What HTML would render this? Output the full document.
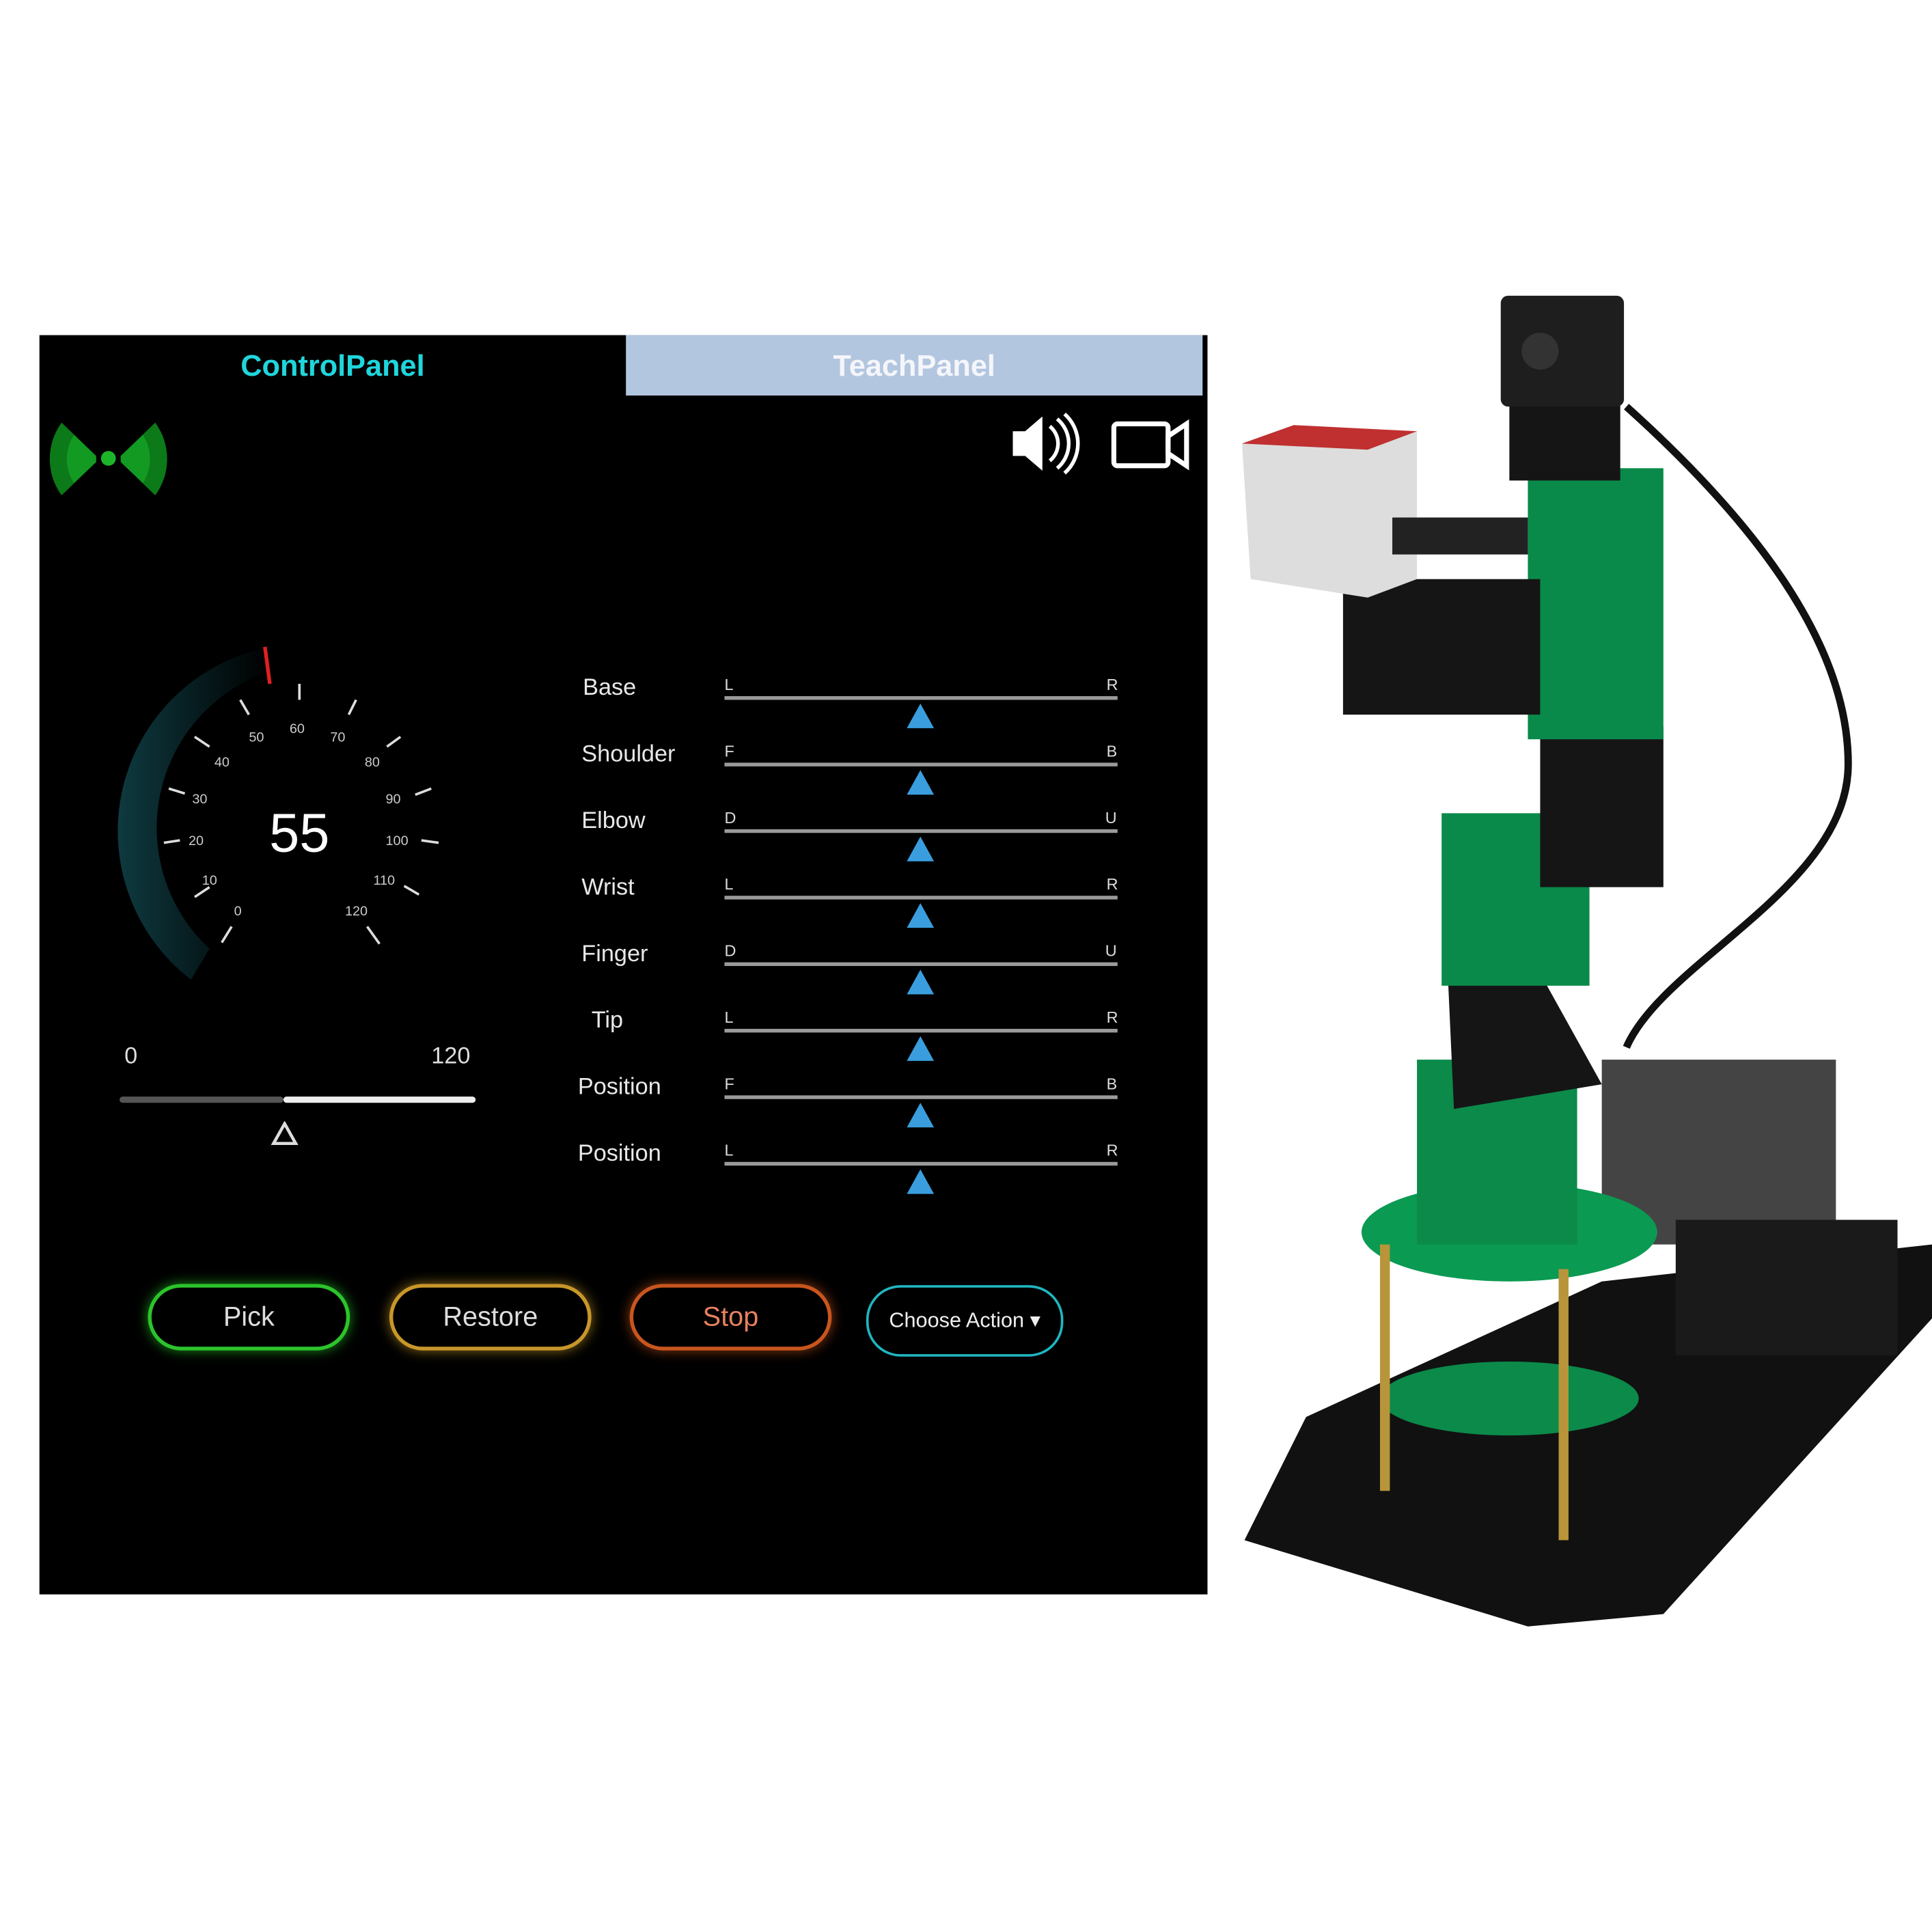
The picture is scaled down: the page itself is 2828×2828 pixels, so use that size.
<!DOCTYPE html>
<html><head><meta charset="utf-8"><style>
html,body{margin:0;padding:0;background:#fff;width:2828px;height:2828px;overflow:hidden}
#w{position:absolute;left:0;top:0;width:1568px;height:1568px;transform:scale(1.80357);transform-origin:0 0;font-family:"Liberation Sans",sans-serif}
.a{position:absolute}
.lab{position:absolute;color:#e8e8e8;font-size:19px}
.tk{position:absolute;height:3px;background:#9a9a9a;left:588px;width:319px}
.le{position:absolute;color:#ddd;font-size:13px}
.tri{position:absolute;width:0;height:0;border-left:11px solid transparent;border-right:11px solid transparent;border-bottom:20px solid #3a9ede;left:736px}
.btn{position:absolute;top:1042px;height:54px;border-radius:28px;box-sizing:border-box;color:#ddd;font-size:22px;display:flex;align-items:center;justify-content:center}
</style></head><body><div id="w">
<div class="a" style="left:32px;top:272px;width:948px;height:1022px;background:#000"></div>
<div class="a" style="left:508px;top:272px;width:468px;height:49px;background:#b3c6e0"></div>
<div class="a" style="left:508px;top:284px;width:468px;text-align:center;color:#f4f6fa;font-weight:bold;font-size:24px">TeachPanel</div>
<div class="a" style="left:100px;top:284px;width:340px;text-align:center;color:#1fd6dc;font-weight:bold;font-size:24px">ControlPanel</div>
<svg class="a" style="left:38px;top:335px" width="100" height="75" viewBox="0 0 100 75">
<path d="M12 8 A50 50 0 0 0 12 67 L40 40 L40 35 Z" fill="#0c7a18"/>
<path d="M22 18 A36 36 0 0 0 22 57 L40 40 L40 35Z" fill="#139a22"/>
<path d="M88 8 A50 50 0 0 1 88 67 L60 40 L60 35 Z" fill="#0c7a18"/>
<path d="M78 18 A36 36 0 0 1 78 57 L60 40 L60 35Z" fill="#139a22"/>
<circle cx="50" cy="37" r="6" fill="#1cb52a"/></svg>
<svg class="a" style="left:818px;top:332px" width="150" height="56" viewBox="0 0 150 56">
<path d="M4 18 H14 L28 6 V50 L14 38 H4Z" fill="#fff"/>
<path d="M34 14 A18 18 0 0 1 34 42 M40 8 A26 26 0 0 1 40 48 M46 4 A32 32 0 0 1 46 52" stroke="#fff" stroke-width="3" fill="none"/>
<rect x="86" y="12" width="44" height="34" rx="3" stroke="#fff" stroke-width="4" fill="none"/>
<path d="M130 22 L145 12 V46 L130 36Z" fill="none" stroke="#fff" stroke-width="4"/></svg>
<svg class="a" style="left:80px;top:510px" width="320" height="300" viewBox="80 510 320 300">
<defs><linearGradient id="g" x1="0" y1="0" x2="1" y2="0"><stop offset="0" stop-color="#0e3a40"/><stop offset="1" stop-color="#000"/></linearGradient></defs>
<path d="M155 795 A152 152 0 0 1 215 526 L218 545 A134 134 0 0 0 170 770Z" fill="url(#g)"/>
<line x1="215" y1="525" x2="219" y2="555" stroke="#e02020" stroke-width="3"/>
<g stroke="#ddd" stroke-width="2">
<path d="M180 765 L188 752 M158 728 L170 720 M133 684 L146 682 M137 640 L150 644 M158 598 L170 606 M195 568 L202 580 M243 555 L243 568 M289 568 L283 580 M325 598 L314 606 M350 640 L337 645 M356 684 L342 682 M340 726 L328 719 M308 766 L298 752"/></g>
<g fill="#ccc" font-size="11" font-family="Liberation Sans">
<text x="190" y="743">0</text><text x="164" y="718">10</text><text x="153" y="686">20</text><text x="156" y="652">30</text><text x="174" y="622">40</text><text x="202" y="602">50</text><text x="235" y="595">60</text><text x="268" y="602">70</text><text x="296" y="622">80</text><text x="313" y="652">90</text><text x="313" y="686">100</text><text x="303" y="718">110</text><text x="280" y="743">120</text></g>
<text x="243" y="691" fill="#fff" font-size="44" text-anchor="middle" font-family="Liberation Sans">55</text></svg>
<div class="a" style="left:101px;top:847px;color:#ddd;font-size:19px">0</div>
<div class="a" style="left:350px;top:847px;color:#ddd;font-size:19px">120</div>
<div class="a" style="left:97px;top:890px;width:133px;height:5px;background:#555;border-radius:3px"></div>
<div class="a" style="left:230px;top:890px;width:156px;height:5px;background:#eee;border-radius:3px"></div>
<svg class="a" style="left:220px;top:910px" width="22" height="20"><path d="M11 2 L20 18 H2Z" fill="none" stroke="#ddd" stroke-width="2.5"/></svg>

<div class="lab" style="left:473px;top:548px">Base</div><div class="le" style="left:588px;top:548px">L</div><div class="le" style="left:898px;top:548px">R</div><div class="tk" style="top:565px"></div><div class="tri" style="top:571px"></div>
<div class="lab" style="left:472px;top:602px">Shoulder</div><div class="le" style="left:588px;top:602px">F</div><div class="le" style="left:898px;top:602px">B</div><div class="tk" style="top:619px"></div><div class="tri" style="top:625px"></div>
<div class="lab" style="left:472px;top:656px">Elbow</div><div class="le" style="left:588px;top:656px">D</div><div class="le" style="left:897px;top:656px">U</div><div class="tk" style="top:673px"></div><div class="tri" style="top:679px"></div>
<div class="lab" style="left:472px;top:710px">Wrist</div><div class="le" style="left:588px;top:710px">L</div><div class="le" style="left:898px;top:710px">R</div><div class="tk" style="top:727px"></div><div class="tri" style="top:733px"></div>
<div class="lab" style="left:472px;top:764px">Finger</div><div class="le" style="left:588px;top:764px">D</div><div class="le" style="left:897px;top:764px">U</div><div class="tk" style="top:781px"></div><div class="tri" style="top:787px"></div>
<div class="lab" style="left:480px;top:818px">Tip</div><div class="le" style="left:588px;top:818px">L</div><div class="le" style="left:898px;top:818px">R</div><div class="tk" style="top:835px"></div><div class="tri" style="top:841px"></div>
<div class="lab" style="left:469px;top:872px">Position</div><div class="le" style="left:588px;top:872px">F</div><div class="le" style="left:898px;top:872px">B</div><div class="tk" style="top:889px"></div><div class="tri" style="top:895px"></div>
<div class="lab" style="left:469px;top:926px">Position</div><div class="le" style="left:588px;top:926px">L</div><div class="le" style="left:898px;top:926px">R</div><div class="tk" style="top:943px"></div><div class="tri" style="top:949px"></div>

<div class="btn" style="left:120px;width:164px;border:3px solid #2bc42b;box-shadow:0 0 10px #1a8a1a">Pick</div>
<div class="btn" style="left:316px;width:164px;border:3px solid #c8962a;box-shadow:0 0 10px #8a6a1a">Restore</div>
<div class="btn" style="left:511px;width:164px;border:3px solid #c8561e;box-shadow:0 0 10px #8a3a12;color:#e88060">Stop</div>
<div class="btn" style="left:703px;top:1043px;width:160px;height:58px;border:2px solid #1fb6c0;font-size:17px;color:#eee">Choose Action ▾</div>

<svg class="a" style="left:980px;top:230px" width="588" height="1110" viewBox="980 230 588 1110">
<path d="M1060 1150 L1300 1040 L1568 1010 L1568 1070 L1350 1310 L1240 1320 L1010 1250Z" fill="#111"/>
<path d="M1320 330 C1420 420 1500 520 1500 620 C1500 720 1350 780 1320 850" stroke="#111" stroke-width="6" fill="none"/>
<rect x="1300" y="860" width="190" height="150" fill="#444"/>
<rect x="1360" y="990" width="180" height="110" fill="#1a1a1a"/>
<ellipse cx="1225" cy="1135" rx="105" ry="30" fill="#0b8a4a"/>
<ellipse cx="1225" cy="1000" rx="120" ry="40" fill="#0b9a52"/>
<rect x="1120" y="1010" width="8" height="200" fill="#b8953a"/><rect x="1265" y="1030" width="8" height="220" fill="#b8953a"/>
<rect x="1150" y="860" width="130" height="150" fill="#0c8a4a"/>
<path d="M1175 790 L1250 790 L1300 880 L1180 900Z" fill="#151515"/>
<rect x="1170" y="660" width="120" height="140" fill="#0a8a4a"/>
<rect x="1250" y="590" width="100" height="130" fill="#151515"/>
<rect x="1240" y="380" width="110" height="220" fill="#0a8a4a"/>
<rect x="1090" y="470" width="160" height="110" fill="#151515"/>
<rect x="1225" y="300" width="90" height="90" fill="#151515"/>
<rect x="1218" y="240" width="100" height="90" rx="6" fill="#1e1e1e"/>
<circle cx="1250" cy="285" r="15" fill="#333"/>
<path d="M1008 360 L1050 345 L1150 350 L1150 470 L1110 485 L1015 470Z" fill="#ddd"/>
<path d="M1008 360 L1050 345 L1150 350 L1110 365Z" fill="#c03030"/>
<rect x="1130" y="420" width="110" height="30" fill="#222"/>
</svg>
</div></body></html>
